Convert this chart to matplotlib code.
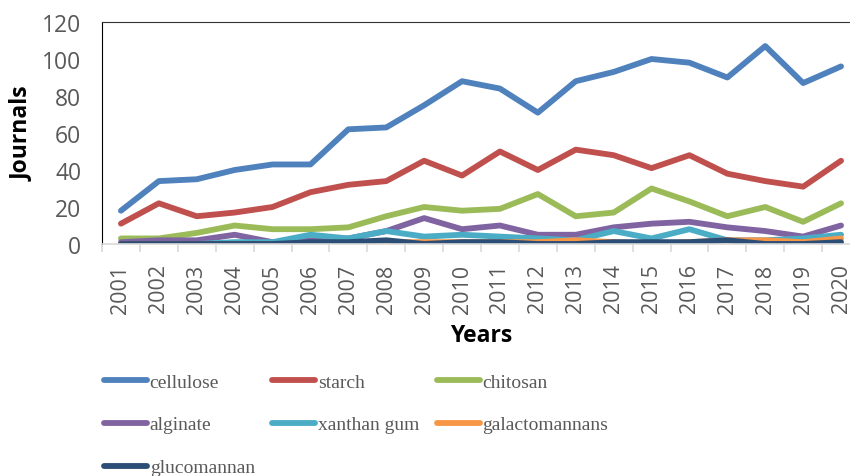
import matplotlib.pyplot as plt
import numpy as np

years = [str(y) for y in range(2001, 2021)]

cellulose = [18, 34, 35, 40, 43, 43, 62, 63, 75, 88, 84, 71, 88, 93, 100, 98, 90, 107, 87, 96]
starch = [11, 22, 15, 17, 20, 28, 32, 34, 45, 37, 50, 40, 51, 48, 41, 48, 38, 34, 31, 45]
chitosan = [3, 3, 6, 10, 8, 8, 9, 15, 20, 18, 19, 27, 15, 17, 30, 23, 15, 20, 12, 22]
alginate = [1, 2, 2, 5, 1, 2, 3, 7, 14, 8, 10, 5, 5, 9, 11, 12, 9, 7, 4, 10]
xanthan_gum = [0, 0, 0, 1, 1, 5, 3, 7, 4, 5, 4, 3, 2, 7, 3, 8, 2, 2, 3, 5]
galactomannans = [0, 0, 0, 0, 0, 0, 0, 1, 1, 1, 1, 1, 2, 1, 0, 1, 2, 2, 1, 3]
glucomannan = [0, 0, 0, 0, 0, 1, 1, 2, 0, 1, 1, 0, 0, 1, 1, 1, 2, 0, 0, 1]

series = [
    ("cellulose", cellulose, "#4F81BD"),
    ("starch", starch, "#C0504D"),
    ("chitosan", chitosan, "#9BBB59"),
    ("alginate", alginate, "#8064A2"),
    ("xanthan gum", xanthan_gum, "#4BACC6"),
    ("galactomannans", galactomannans, "#F79646"),
    ("glucomannan", glucomannan, "#2C4D75"),
]

tick_font = "Open Sans"
gray = "#595959"

fig = plt.figure(figsize=(8.5, 4.77), dpi=100)
ax = fig.add_axes([102 / 850, 1 - 245 / 477, 758 / 850, 222 / 477])

x = np.arange(len(years))
handles = {}
for name, vals, color in series:
    h, = ax.plot(x, vals, color=color, lw=4.2, solid_joinstyle="round",
                 solid_capstyle="round", label=name)
    handles[name] = h

ax.set_xlim(-0.5, len(years) - 0.5)
ax.set_ylim(0, 120)
ax.set_yticks(range(0, 121, 20))
ax.set_xticks(x)
ax.set_xticklabels(years, rotation=90, fontsize=15.5, color=gray, family=tick_font)
ax.set_xticks(np.arange(-0.5, len(years), 1), minor=True)
ax.tick_params(axis="x", which="major", length=0, pad=14)
ax.tick_params(axis="x", which="minor", length=6, color="#d9d9d9", width=1.2)
ax.tick_params(axis="y", length=0, pad=15, labelsize=16.5, labelcolor=gray)
for lab in ax.get_yticklabels():
    lab.set_family(tick_font)

ax.spines["right"].set_visible(False)
ax.spines["bottom"].set_color("#d9d9d9")
ax.spines["bottom"].set_linewidth(1.2)
ax.spines["left"].set_color("black")
ax.spines["top"].set_color("#333333")

fig.text(22 / 850, 1 - 134 / 477, "Journals", rotation=90, ha="center", va="center",
         fontsize=16.5, fontweight="bold", family=tick_font)
fig.text(481 / 850, 1 - 336 / 477, "Years", ha="center", va="center",
         fontsize=16.5, fontweight="bold", family=tick_font)

# column-major order so the legend reads row by row
order = ["cellulose", "alginate", "glucomannan", "starch", "xanthan gum",
         "chitosan", "galactomannans"]
leg = fig.legend([handles[n] for n in order], order, ncol=3, loc="upper left",
                 bbox_to_anchor=(104 / 850, 1 - 374 / 477), frameon=False,
                 borderpad=0, borderaxespad=0, handlelength=2.2, handletextpad=0.15,
                 columnspacing=0.9, labelspacing=1.3,
                 prop={"family": "Liberation Serif", "size": 14})
for t in leg.get_texts():
    t.set_color(gray)

fig.savefig("out.png", dpi=100)
